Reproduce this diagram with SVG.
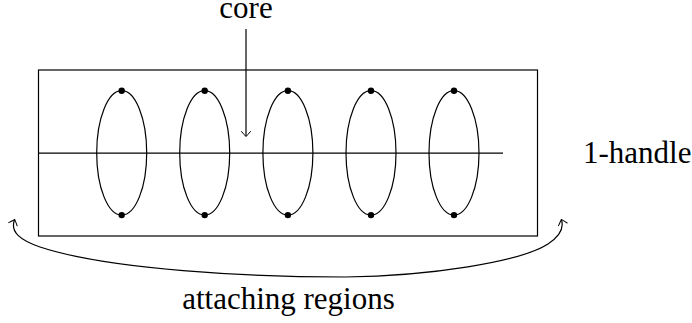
<svg xmlns="http://www.w3.org/2000/svg" width="692" height="323" viewBox="0 0 692 323">
<defs>
<style>
.s{fill:none;stroke:#000;stroke-width:1.2}
.d{fill:#000}
</style>
<marker id="to" viewBox="-6 -6 10 12" markerWidth="10" markerHeight="12" refX="0" refY="0" orient="auto" markerUnits="userSpaceOnUse">
<path d="M-4.5,-4.5 Q-0.5,-1 0.6,0 Q-0.5,1 -4.5,4.5" fill="none" stroke="#000" stroke-width="1" stroke-linecap="round"/>
</marker>
</defs>
<g id="handle">
<rect class="s" x="38.5" y="70" width="499" height="166"/>
<line class="s" x1="38.5" y1="153.2" x2="503" y2="153.2"/>
</g>
<g id="ellipse1"><ellipse class="s" cx="121.7" cy="152.9" rx="25" ry="62.2"/><circle class="d" cx="121.7" cy="90.7" r="3.2"/><circle class="d" cx="121.7" cy="215.1" r="3.2"/></g>
<g id="ellipse2"><ellipse class="s" cx="204.7" cy="152.9" rx="25" ry="62.2"/><circle class="d" cx="204.7" cy="90.7" r="3.2"/><circle class="d" cx="204.7" cy="215.1" r="3.2"/></g>
<g id="ellipse3"><ellipse class="s" cx="287.9" cy="152.9" rx="25" ry="62.2"/><circle class="d" cx="287.9" cy="90.7" r="3.2"/><circle class="d" cx="287.9" cy="215.1" r="3.2"/></g>
<g id="ellipse4"><ellipse class="s" cx="371" cy="152.9" rx="25" ry="62.2"/><circle class="d" cx="371" cy="90.7" r="3.2"/><circle class="d" cx="371" cy="215.1" r="3.2"/></g>
<g id="ellipse5"><ellipse class="s" cx="454" cy="152.9" rx="25" ry="62.2"/><circle class="d" cx="454" cy="90.7" r="3.2"/><circle class="d" cx="454" cy="215.1" r="3.2"/></g>
<g id="connectors">
<line class="s" x1="246" y1="29" x2="246" y2="136" marker-end="url(#to)"/>
<path class="s" d="M345,277 C250,277 110,270 40,247 C20,240 10,232 14.5,220" marker-end="url(#to)"/>
<path class="s" d="M345,277 C430,276 520,262 548,244 C560,236 564,228 561.5,220" marker-end="url(#to)"/>
</g>
<g id="labels" fill="#000" font-size="30">
<text x="246" y="18" text-anchor="middle" font-size="31" font-family="'Liberation Serif'">core</text>
<text x="583" y="163" font-size="31" font-family="'Liberation Serif'">1-handle</text>
<text x="288.5" y="309" text-anchor="middle" font-size="31" font-family="'Liberation Serif'">attaching regions</text>
</g>
</svg>
